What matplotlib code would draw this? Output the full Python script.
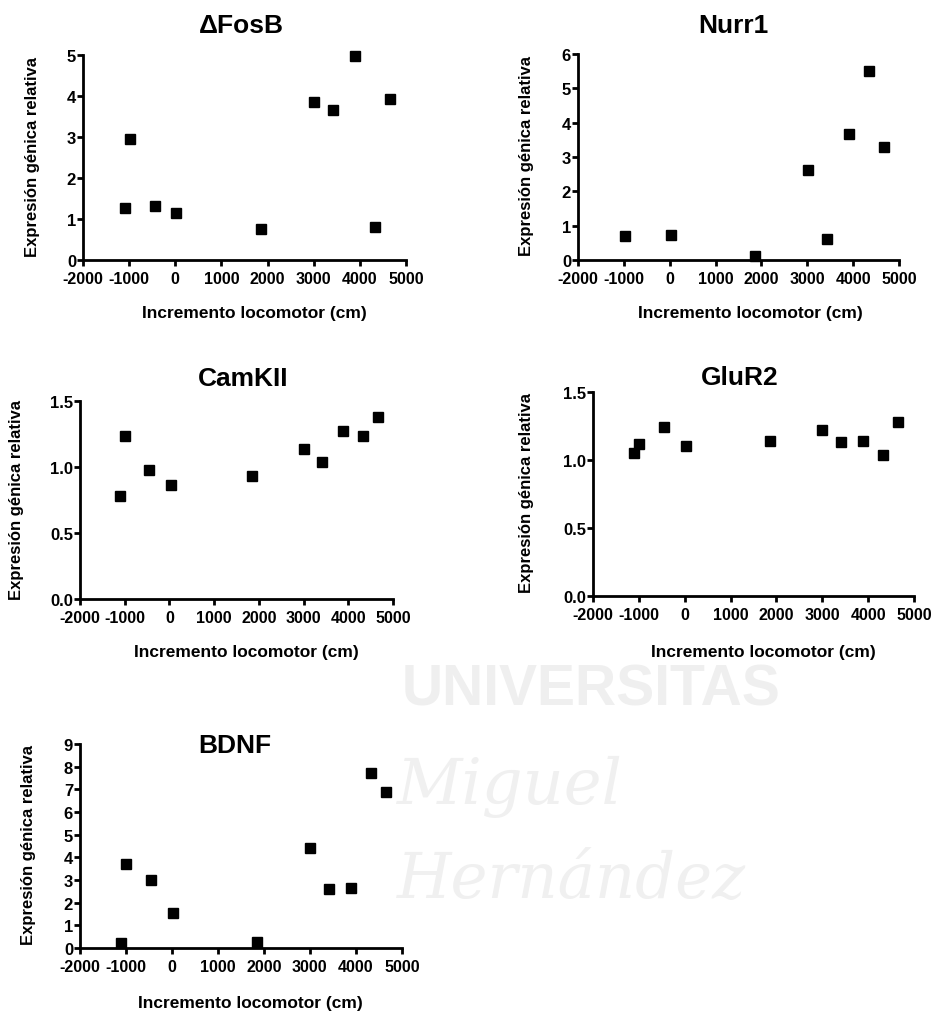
import numpy as np
import matplotlib
matplotlib.use("Agg")
import matplotlib.pyplot as plt

plt.rcParams["font.family"] = ["Liberation Sans", "DejaVu Sans"]
plt.rcParams["font.weight"] = "bold"
plt.rcParams["axes.unicode_minus"] = False

# incremento locomotor (cm) para cada animal
x_all = [-1100, -990, -450, 25, 1850, 3000, 3410, 3890, 4330, 4660]

fosb = [1.28, 2.96, 1.33, 1.16, 0.77, 3.86, 3.65, 4.97, 0.80, 3.92]
nurr1_x = [-980, 35, 1865, 3025, 3435, 3905, 4345, 4675]
nurr1 = [0.70, 0.72, 0.12, 2.63, 0.62, 3.68, 5.50, 3.30]
camkii = [0.78, 1.235, 0.98, 0.86, 0.93, 1.135, 1.04, 1.27, 1.235, 1.375]
glur2 = [1.05, 1.12, 1.24, 1.10, 1.14, 1.22, 1.13, 1.14, 1.04, 1.28]
bdnf = [0.22, 3.69, 3.00, 1.54, 0.25, 4.43, 2.58, 2.66, 7.72, 6.89]

xticks = [-2000, -1000, 0, 1000, 2000, 3000, 4000, 5000]

fig = plt.figure(figsize=(9.33, 10.12), dpi=100)

# marca de agua
fig.text(0.633, 0.318, "UNIVERSITAS", fontsize=41, color="#efefef",
         ha="center", va="center", fontweight="bold", zorder=0)
fig.text(0.425, 0.222, "Miguel", fontsize=46, color="#f0f0f0", ha="left",
         va="center", family="DejaVu Serif", style="italic", fontweight="normal", zorder=0)
fig.text(0.425, 0.13, "Hernández", fontsize=45, color="#f0f0f0", ha="left",
         va="center", family="DejaVu Serif", style="italic", fontweight="normal", zorder=0)

panels = [
    # rect, x, y, ylim, yticks, fmt, title, title pos, ylabel pos, xlabel pos
    ([0.089, 0.742, 0.346, 0.2026], x_all, fosb, 5, np.arange(0, 6, 1), "%d",
     "\u0394FosB", (0.492, 1.146), (-0.158, 0.51), (0.532, -0.254)),
    ([0.6195, 0.742, 0.344, 0.2036], nurr1_x, nurr1, 6, np.arange(0, 7, 1), "%d",
     "Nurr1", (0.483, 1.14), (-0.159, 0.51), (0.536, -0.252)),
    ([0.0857, 0.4071, 0.3355, 0.1957], x_all, camkii, 1.5, [0, 0.5, 1.0, 1.5], "%.1f",
     "CamKII", (0.521, 1.116), (-0.204, 0.505), (0.533, -0.263)),
    ([0.6356, 0.4101, 0.344, 0.2016], x_all, glur2, 1.5, [0, 0.5, 1.0, 1.5], "%.1f",
     "GluR2", (0.458, 1.073), (-0.206, 0.51), (0.53, -0.27)),
    ([0.0857, 0.0623, 0.345, 0.2016], x_all, bdnf, 9, np.arange(0, 10, 1), "%d",
     "BDNF", (0.481, 0.995), (-0.161, 0.51), (0.528, -0.265)),
]

for rect, xs, ys, ymax, yt, fmt, title, tpos, ylpos, xlpos in panels:
    ax = fig.add_axes(rect)
    ax.set_facecolor("none")
    ax.plot(xs, ys, "s", color="black", markersize=7, clip_on=False)
    ax.set_xlim(-2000, 5000)
    ax.set_ylim(0, ymax)
    ax.set_xticks(xticks)
    ax.set_yticks(yt)
    ax.yaxis.set_major_formatter(matplotlib.ticker.FormatStrFormatter(fmt))
    for s in ["top", "right"]:
        ax.spines[s].set_visible(False)
    for s in ["left", "bottom"]:
        ax.spines[s].set_linewidth(2)
    ax.tick_params(direction="out", length=4, width=2)
    ax.tick_params(axis="x", labelsize=11.5, pad=4)
    ax.tick_params(axis="y", labelsize=12, pad=1)
    ax.text(tpos[0], tpos[1], title, transform=ax.transAxes, ha="center",
            va="center", fontsize=19, fontweight="bold")
    ax.set_ylabel("Expresión génica relativa", fontsize=12, fontweight="bold")
    ax.set_xlabel("Incremento locomotor (cm)", fontsize=12.5, fontweight="bold")
    ax.yaxis.label.set_va("center")
    ax.xaxis.label.set_va("center")
    ax.yaxis.set_label_coords(*ylpos)
    ax.xaxis.set_label_coords(*xlpos)

plt.savefig("out.png", dpi=100)
